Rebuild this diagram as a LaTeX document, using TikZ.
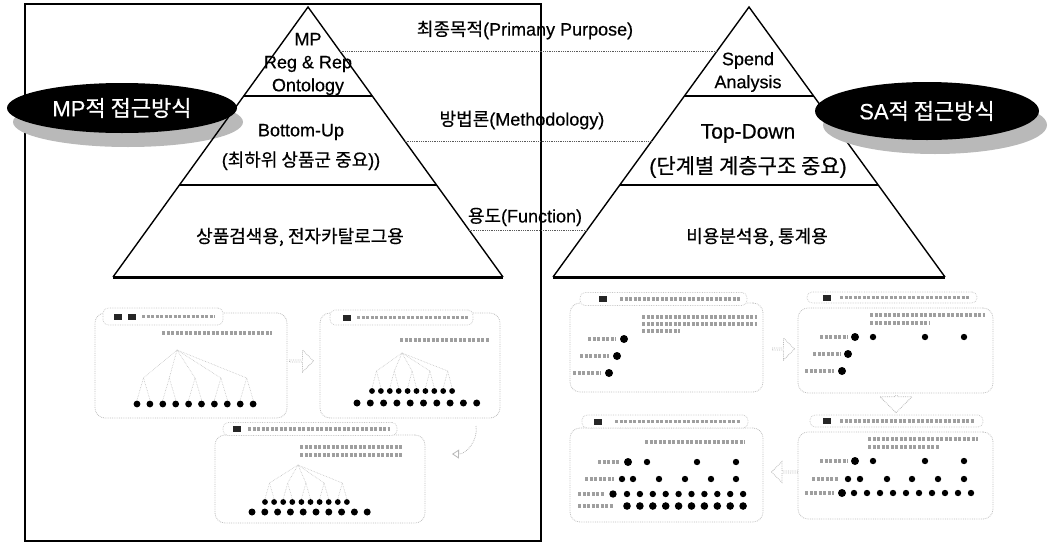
\documentclass[tikz,border=0pt]{standalone}
\usepackage{fontspec}
\setmainfont{Liberation Sans}[UprightFeatures={FakeBold=0.5}]
\newfontfamily\kr{Noto Sans CJK KR}[UprightFeatures={FakeBold=0.5}]
\usetikzlibrary{shapes.geometric,shapes.arrows,calc,arrows.meta}
\newcommand{\dotrow}[5]{\foreach \k in {0,...,#4}{\fill ({#1+\k*#2},#3) circle (#5);}}
\newcommand{\mkline}[3]{\draw[mk] (#1,#3) -- (#2,#3);}
\newcommand{\blob}[2]{\fill[black!85] ({#1-4},{#2-3}) rectangle ({#1+4},{#2+3});}
\begin{document}
\begin{tikzpicture}[x=1pt,y=-1pt,
 pyr/.style={line width=1.4pt, line join=miter},
 basel/.style={line width=3pt},
 divl/.style={line width=1.8pt},
 guide/.style={black!65, densely dotted, line width=0.8pt},
 lbl/.style={font=\fontsize{18}{23}\selectfont, inner sep=0pt, align=center},
 oval/.style={ellipse, fill=black, text=white, inner sep=0pt, font=\fontsize{22}{24}\selectfont},
 ovalsh/.style={ellipse, fill=gray!55, inner sep=0pt},
 sshot/.style={draw=gray!50, densely dotted, line width=0.8pt, rounded corners=10pt, inner sep=0pt},
 ttl/.style={draw=gray!45, densely dotted, line width=0.7pt, rounded corners=5pt, fill=white, inner sep=0pt},
 mk/.style={gray!75, line width=3.2pt, dash pattern=on 3pt off 1.5pt},
 tree/.style={gray!50, densely dotted, line width=0.6pt},
 sarrow/.style={single arrow, draw=gray!55, densely dotted, line width=0.8pt, inner sep=0pt, single arrow head extend=4pt},
]
\useasboundingbox (0,0) rectangle (1049,544);

% outer frame
\node[draw, line width=1.8pt, minimum width=516pt, minimum height=537pt, inner sep=0pt] (frame) at (283,272.5) {};

% MP oval
\node[ovalsh, minimum width=230pt, minimum height=50pt] (mpsh) at (128,122) {};
\node[oval, minimum width=230pt, minimum height=50pt] (mp) at (122,108) {MP{\kr 적 접근방식}};

% left pyramid
\coordinate (LA) at (308,7);
\coordinate (LBL) at (113,277);
\coordinate (LBR) at (503,277);
\draw[pyr] (LBL) -- (LA) -- (LBR);
\draw[basel] (LBL) -- (LBR);
\draw[divl] ($(LA)!0.3296!(LBL)$) -- ($(LA)!0.3296!(LBR)$);
\draw[divl] ($(LA)!0.659!(LBL)$) -- ($(LA)!0.659!(LBR)$);

% right pyramid
\coordinate (RA) at (749,7);
\coordinate (RBL) at (553,277);
\coordinate (RBR) at (945,277);
\draw[pyr] (RBL) -- (RA) -- (RBR);
\draw[basel] (RBL) -- (RBR);
\draw[divl] ($(RA)!0.3296!(RBL)$) -- ($(RA)!0.3296!(RBR)$);
\draw[divl] ($(RA)!0.659!(RBL)$) -- ($(RA)!0.659!(RBR)$);

% SA oval
\node[ovalsh, minimum width=224pt, minimum height=58pt] (sash) at (935,125) {};
\node[oval, minimum width=224pt, minimum height=58pt] (sa) at (927,111) {SA{\kr 적 접근방식}};

% pyramid texts
\node[lbl] (l1) at (308,64) {MP\\Reg \& Rep\\Ontology};
\node[lbl, font=\fontsize{18}{30}\selectfont] (l2) at (301,147) {Bottom-Up\\({\kr 최하위 상품군 중요}))};
\node[lbl] (l3) at (300,237) {{\kr 상품검색용, 전자카탈로그용}};
\node[lbl] (r1) at (748,72) {Spend\\Analysis};
\node[lbl, font=\fontsize{21}{35}\selectfont] (r2) at (748,151) {Top-Down\\({\kr 단계별 계층구조 중요})};
\node[lbl] (r3) at (757,237) {{\kr 비용분석용, 통계용}};

% guide lines and labels
\draw[guide] ($(LA)!0.163!(LBR)$) -- ($(RA)!0.163!(RBL)$);
\draw[guide] ($(LA)!0.496!(LBR)$) -- ($(RA)!0.496!(RBL)$);
\draw[guide] ($(LA)!0.826!(LBR)$) -- ($(RA)!0.826!(RBL)$);
\node[lbl] (p1) at (525,30) {{\kr 최종목적}(Primany Purpose)};
\node[lbl] (p2) at (522,120) {{\kr 방법론}(Methodology)};
\node[lbl] (p3) at (525,217) {{\kr 용도}(Function)};

% ---------- left screenshots ----------
% SS1
\node[sshot, minimum width=192pt, minimum height=105pt] (s1) at (191,365.5) {};
\node[ttl, minimum width=120pt, minimum height=17pt] (t1) at (163,316.5) {};
\blob{118}{316.5} \blob{132}{316.5}
\mkline{142}{215}{316.5}
\mkline{162}{272}{333}
\foreach \m in {0,...,4}{
  \draw[tree] (177,350) -- ({143.5+\m*25.8},378);
  \draw[tree] ({143.5+\m*25.8},378) -- ({137+2*\m*12.9},400);
  \draw[tree] ({143.5+\m*25.8},378) -- ({150+2*\m*12.9},400);
}
\dotrow{137}{12.9}{404}{9}{3.4}

% SS2
\node[sshot, minimum width=180pt, minimum height=105pt] (s2) at (410,365.5) {};
\node[ttl, minimum width=143pt, minimum height=15pt] (t2) at (401.5,317.5) {};
\blob{347}{317.5}
\mkline{357}{468}{317.5}
\mkline{400}{490}{340}
\foreach \m in {0,...,4}{
  \draw[tree] (402,353) -- ({376.5+\m*17.8},371);
  \draw[tree] ({376.5+\m*17.8},371) -- ({372+2*\m*8.9},388);
  \draw[tree] ({376.5+\m*17.8},371) -- ({380.9+2*\m*8.9},388);
}
\dotrow{372}{8.9}{391}{9}{2.9}
\dotrow{357}{13.3}{403}{9}{3.5}

% SS3
\node[sshot, minimum width=210pt, minimum height=88pt] (s3) at (320,479) {};
\node[ttl, minimum width=174pt, minimum height=13pt] (t3) at (310,429) {};
\blob{237}{429}
\mkline{248}{390}{429}
\mkline{300}{403}{447}
\mkline{300}{403}{455}
\foreach \m in {0,...,4}{
  \draw[tree] (298,465) -- ({269.5+\m*18.2},483);
  \draw[tree] ({269.5+\m*18.2},483) -- ({265+2*\m*9.1},499);
  \draw[tree] ({269.5+\m*18.2},483) -- ({274.1+2*\m*9.1},499);
}
\dotrow{265}{9.1}{502}{9}{2.9}
\dotrow{252}{12.8}{512}{9}{3.5}

% arrows left
\node[sarrow, minimum width=22pt, minimum height=24pt] (a1) at (301,361) {};
\coordinate (ca) at (476,426);
\coordinate (cb) at (452,454);
\draw[gray!55, densely dotted, line width=0.8pt, -{Triangle[open,length=7pt,width=9pt]}] (ca) to[bend left=50] (cb);

% ---------- right screenshots ----------
% SS A
\node[sshot, minimum width=193pt, minimum height=89pt] (sA) at (666.5,347.5) {};
\node[ttl, minimum width=167pt, minimum height=13pt] (tA) at (663.5,299) {};
\blob{603}{299}
\mkline{620}{740}{299}
\mkline{642}{757}{317} \mkline{642}{757}{324} \mkline{642}{680}{331}
\mkline{588}{616}{339} \fill (624,339) circle (4);
\mkline{580}{609}{356} \fill (617,356) circle (4);
\mkline{573}{601}{373} \fill (609,373) circle (4);

% SS B
\node[sshot, minimum width=195pt, minimum height=85pt] (sB) at (895.5,350.5) {};
\node[ttl, minimum width=170pt, minimum height=11pt] (tB) at (892,297.5) {};
\blob{827}{297.5}
\mkline{840}{970}{297.5}
\mkline{870}{985}{315} \mkline{870}{930}{323}
\mkline{820}{848}{337} \fill (855,337) circle (4);
\foreach \x in {873,925,964} \fill (\x,337) circle (3.2);
\mkline{813}{841}{354} \fill (848,354) circle (4);
\mkline{805}{834}{371} \fill (842,371) circle (4);

% SS C
\node[sshot, minimum width=193pt, minimum height=94pt] (sC) at (666.5,475) {};
\node[ttl, minimum width=166pt, minimum height=13pt] (tC) at (665,421.5) {};
\blob{598}{421.5}
\mkline{615}{740}{421.5}
\mkline{645}{745}{442}
\mkline{598}{620}{462} \fill (628,462) circle (4);
\foreach \x in {647,697,736} \fill (\x,462) circle (3.2);
\mkline{585}{614}{479}
\foreach \x in {622,633,659,685,711,736} \fill (\x,479) circle (3.2);
\mkline{578}{604}{494} \fill (613,494) circle (3.7);
\dotrow{627}{12.9}{494}{9}{3.2}
\mkline{578}{614}{506}
\dotrow{627}{12.9}{506}{9}{3.8}

% SS D
\node[sshot, minimum width=195pt, minimum height=87pt] (sD) at (895.5,475.5) {};
\node[ttl, minimum width=173pt, minimum height=12pt] (tD) at (896.5,421) {};
\blob{827}{421}
\mkline{840}{975}{421}
\mkline{868}{978}{439} \mkline{868}{940}{447}
\mkline{820}{848}{461} \fill (855,461) circle (4);
\foreach \x in {873,925,964} \fill (\x,461) circle (3.2);
\mkline{812}{839}{479}
\foreach \x in {848,860,887,912,938,964} \fill (\x,479) circle (3.2);
\mkline{805}{834}{493} \fill (842,493) circle (4);
\dotrow{854}{13}{493}{9}{3.2}

% arrows right
\node[sarrow, minimum width=22pt, minimum height=22pt] (aAB) at (783,349) {};
\node[sarrow, shape border rotate=270, minimum width=32pt, minimum height=17pt] (aBD) at (896,403.5) {};
\node[sarrow, shape border rotate=180, minimum width=21pt, minimum height=26pt] (aDC) at (785,472) {};
\end{tikzpicture}
\end{document}
